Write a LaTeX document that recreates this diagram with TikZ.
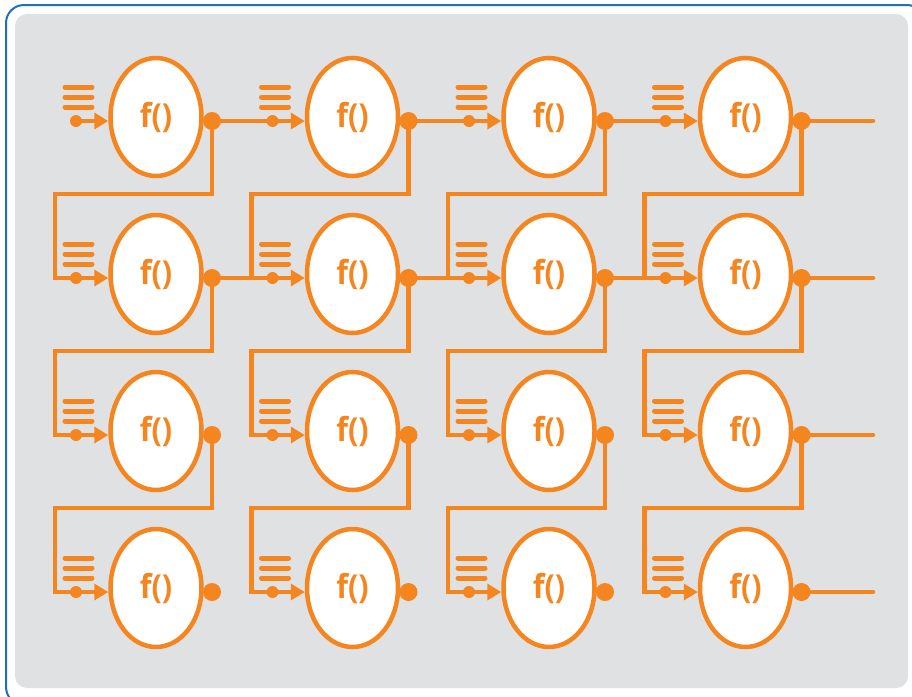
\documentclass[tikz,border=0pt]{standalone}
\usepackage{fontspec}
\setmainfont{Open Sans}
\usetikzlibrary{shapes.geometric,arrows.meta,calc}
\definecolor{org}{HTML}{F4851F}
\definecolor{bggray}{HTML}{E0E1E3}
\definecolor{frameblue}{HTML}{1F72BA}
\begin{document}
\begin{tikzpicture}[x=1pt,y=-1pt,
  cell/.style={ellipse,draw=org,fill=white,line width=4.5pt,minimum width=91pt,minimum height=118pt,inner sep=0pt,text=org,font=\fontsize{33}{33}\selectfont\bfseries},
  wire/.style={draw=org,line width=4.5pt},
  bigdot/.style={circle,fill=org,minimum size=18pt,inner sep=0pt},
  smalldot/.style={circle,fill=org,minimum size=12pt,inner sep=0pt},
  bar/.style={draw=org,line width=5pt,line cap=round},
  feed/.style={wire,-{Triangle[length=14pt,width=16pt]}}
]
\useasboundingbox (0,0) rectangle (912,696);
\draw[frameblue,line width=2pt,fill=white,rounded corners=18pt] (6,5) rectangle (925,705);
\fill[bggray,rounded corners=12pt] (15,14) rectangle (908,688);
% cells and reference points
\foreach \r in {1,...,4}{
  \foreach \c in {1,...,4}{
    \pgfmathsetmacro\cx{156+196.5*(\c-1)}
    \pgfmathsetmacro\cy{117+157*(\r-1)}
    \node[cell] (e-\r-\c) at (\cx,\cy) {\raisebox{-1pt}{\scalebox{0.92}[1]{f()}}};
    \coordinate (out-\r-\c) at (\cx+56,\cy+4);
    \coordinate (in-\r-\c) at (\cx-80,\cy+4);
    \coordinate (fb-\r-\c) at (\cx-101,\cy+4);
    \coordinate (drop-\r-\c) at (\cx+56,\cy+77);
  }
  \pgfmathsetmacro\cy{117+157*(\r-1)}
  \coordinate (end-\r) at (873,\cy+4);
}
% horizontal links, rows 1 and 2
\foreach \r in {1,2}{
  \foreach \c in {1,2,3}{
    \pgfmathtruncatemacro\cn{\c+1}
    \draw[wire] (out-\r-\c) -- (in-\r-\cn);
  }
}
% feedback links down each column
\foreach \r in {1,2,3}{
  \pgfmathtruncatemacro\rn{\r+1}
  \foreach \c in {1,...,4}{
    \draw[wire] (out-\r-\c) -- (drop-\r-\c) -| (fb-\rn-\c) -- (in-\rn-\c);
  }
}
% outputs of last column
\foreach \r in {1,...,4}{
  \draw[wire,line cap=round] (out-\r-4) -- (end-\r);
}
% input arrows, dots and bars
\foreach \r in {1,...,4}{
  \foreach \c in {1,...,4}{
    \pgfmathsetmacro\cx{156+196.5*(\c-1)}
    \pgfmathsetmacro\cy{117+157*(\r-1)}
    \draw[feed] (in-\r-\c) -- (in-\r-\c -| e-\r-\c.west);
    \node[smalldot] (id-\r-\c) at (in-\r-\c) {};
    \node[bigdot] (od-\r-\c) at (out-\r-\c) {};
    \draw[bar] (\cx-91,\cy-30) -- (\cx-64,\cy-30);
    \draw[bar] (\cx-91,\cy-20) -- (\cx-64,\cy-20);
    \draw[bar] (\cx-91,\cy-10) -- (\cx-64,\cy-10);
  }
}
\end{tikzpicture}
\end{document}
